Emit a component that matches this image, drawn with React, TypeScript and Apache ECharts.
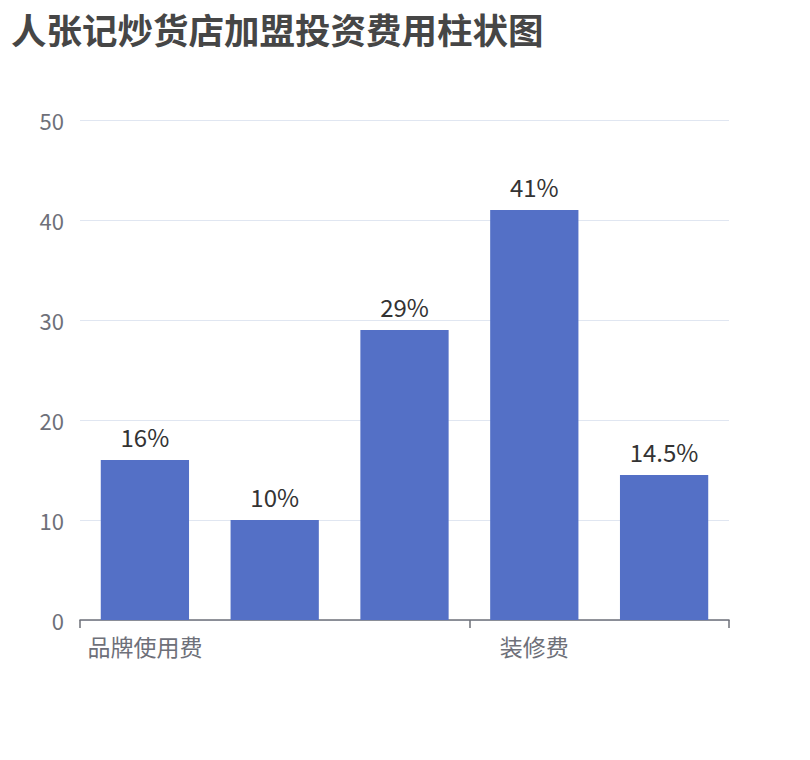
import React, { useEffect, useRef } from "react";
import * as echarts from "echarts";

const categories = ["品牌使用费", "加盟保证金", "设备购置费", "装修费", "首批进货费"];
const values = [16, 10, 29, 41, 14.5];
const yTicks = { min: 0, max: 50, interval: 10 };

const FONT = "'Noto Sans CJK SC', 'Noto Sans', sans-serif";

const App = () => {
  const chartRef = useRef<HTMLDivElement>(null);

  useEffect(() => {
    const chart = echarts.init(chartRef.current, null, { renderer: "svg" });

    chart.setOption({
      animation: false,
      textStyle: { fontFamily: FONT },
      title: {
        text: "人张记炒货店加盟投资费用柱状图",
        left: 6,
        top: 3,
        textStyle: { fontSize: 35.5, fontWeight: "bold", color: "#464646", fontFamily: FONT, lineHeight: 40 },
      },
      grid: { left: 80, right: 81, top: 120, bottom: 140 },
      xAxis: {
        type: "category",
        data: categories,
        axisLine: { lineStyle: { color: "#6e7079", width: 1.5 } },
        axisTick: { show: true, interval: 2, length: 8, lineStyle: { color: "#6e7079", width: 1.5 } },
        axisLabel: { interval: 2, fontSize: 23, color: "#6e7079", margin: 14, fontFamily: FONT },
      },
      yAxis: {
        type: "value",
        ...yTicks,
        axisLabel: { fontSize: 22, color: "#6e7079", margin: 16, fontFamily: FONT },
        splitLine: { lineStyle: { color: "#e0e6f1" } },
      },
      series: [
        {
          type: "bar",
          data: values,
          barWidth: "68%",
          itemStyle: { color: "#5470c6" },
          label: {
            show: true,
            position: "top",
            formatter: "{c}%",
            fontSize: 24,
            color: "#333",
            distance: 12,
            fontFamily: FONT,
          },
        },
      ],
    });

    return () => chart.dispose();
  }, []);

  return <div ref={chartRef} style={{ width: 810, height: 760, margin: -8 }} />;
};

export default App;
